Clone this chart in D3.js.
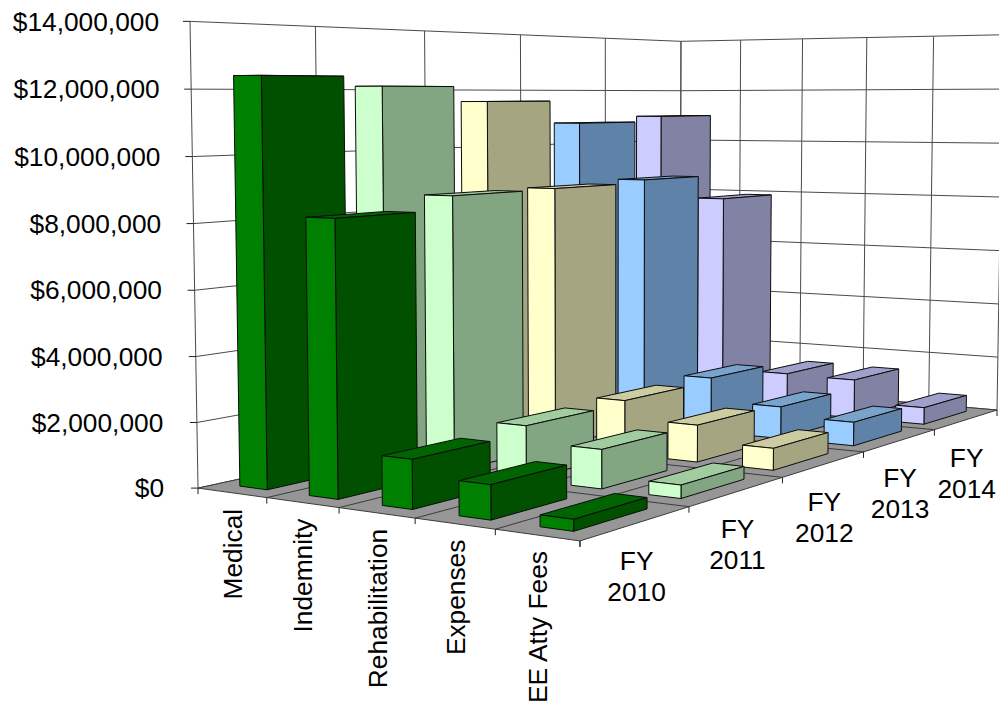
<!DOCTYPE html>
<html>
<head>
<meta charset="utf-8">
<script src="https://cdnjs.cloudflare.com/ajax/libs/d3/7.8.5/d3.min.js"></script>
<style>
  html, body { margin: 0; background: #fff; }
  svg { display: block; }
  text { font-family: "Liberation Sans", Arial, sans-serif; font-size: 26.3px; fill: #000; }
</style>
</head>
<body>
<svg id="chart" width="999" height="707"></svg>
<script>
const categories = ["Medical", "Indemnity", "Rehabilitation", "Expenses", "EE Atty Fees"];
const years = ["FY 2010", "FY 2011", "FY 2012", "FY 2013", "FY 2014"];
const valueTicks = [0, 2e6, 4e6, 6e6, 8e6, 10e6, 12e6, 14e6];

// Dollars per category, in the order of `categories`
const fy2010 = [12400000, 8250000, 1450000, 1000000, 330000];
const fy2011 = [12100000, 8680000, 1680000, 1200000, 400000];
const fy2012 = [11600000, 8700000, 1780000, 1200000, 700000];
const fy2013 = [10800000, 8800000, 1900000, 1100000, 800000];
const fy2014 = [11000000, 7900000, 1430000, 1400000, 600000];
const yearValues = [fy2010, fy2011, fy2012, fy2013, fy2014];

const frontFill = ["#008000", "#ccffcc", "#ffffcc", "#99ccff", "#ccccff"];
const sideFill  = ["#005000", "#82a582", "#a5a582", "#5f82a8", "#8282a5"];
const topFill   = ["#006400", "#a0cca0", "#cccca0", "#7aa3cc", "#a0a0cc"];

// Box corners on the page as (across, deep, up) -> (x, y), used to fit the camera
const cameraAnchors = [
  [0, 0, 0, 198, 487], [1, 0, 0, 580, 542], [1, 1, 0, 997, 409], [0, 1, 0, 680, 384],
  [0, 0, 1, 190, 21.5], [0, 1, 1, 681, 41], [1, 1, 1, 1003, 35]
];

// Least-squares fit of a projective camera through the anchors
function fitCamera(pts) {
  const rows = [], rhs = [];
  pts.forEach(([u, v, h, x, y]) => {
    rows.push([u, v, h, 1, 0, 0, 0, 0, -x * u, -x * v, -x * h]); rhs.push(x);
    rows.push([0, 0, 0, 0, u, v, h, 1, -y * u, -y * v, -y * h]); rhs.push(y);
  });
  const n = 11;
  const A = d3.range(n).map(i => {
    const r = d3.range(n).map(j => d3.sum(rows, row => row[i] * row[j]));
    r.push(d3.sum(rows, (row, k) => row[i] * rhs[k]));
    return r;
  });
  for (let c = 0; c < n; c++) {
    let p = c;
    for (let r = c + 1; r < n; r++) if (Math.abs(A[r][c]) > Math.abs(A[p][c])) p = r;
    [A[c], A[p]] = [A[p], A[c]];
    for (let r = 0; r < n; r++) {
      if (r === c) continue;
      const f = A[r][c] / A[c][c];
      for (let k = c; k <= n; k++) A[r][k] -= f * A[c][k];
    }
  }
  return A.map((r, i) => r[n] / r[i]);
}
const m = fitCamera(cameraAnchors);
function project(u, v, h) {
  const w = m[8] * u + m[9] * v + m[10] * h + 1;
  return [(m[0] * u + m[1] * v + m[2] * h + m[3]) / w,
          (m[4] * u + m[5] * v + m[6] * h + m[7]) / w];
}

const hScale = d3.scaleLinear().domain([0, 14e6]).range([0, 1]);
const uBand = d3.scaleBand().domain(categories).range([0, 1]).paddingInner(0.6).paddingOuter(0.3);
const vBand = d3.scaleBand().domain(years).range([0, 1]).paddingInner(1 / 3).paddingOuter(1 / 6);
const uEdges = d3.range(0, 6).map(i => i / 5);
const vEdges = d3.range(0, 6).map(i => i / 5);

const svg = d3.select("#chart");
const pathOf = d3.line();
const quad = pts => pathOf(pts) + "Z";
const GRID = "#4a4a4a";

// Walls
const walls = svg.append("g");
walls.append("path").attr("fill", "#fff").attr("d", quad([project(0,0,0), project(0,1,0), project(0,1,1), project(0,0,1)]));
walls.append("path").attr("fill", "#fff").attr("d", quad([project(0,1,0), project(1,1,0), project(1,1,1), project(0,1,1)]));
const seg = (g, a, b, col, w) => g.append("path").attr("d", pathOf([a, b])).attr("stroke", col).attr("stroke-width", w || 1).attr("fill", "none");
valueTicks.forEach(t => {
  const h = hScale(t);
  seg(walls, project(0,0,h), project(0,1,h), GRID);
  seg(walls, project(0,1,h), project(1,1,h), GRID);
});
vEdges.forEach(v => seg(walls, project(0,v,0), project(0,v,1), GRID));
uEdges.forEach(u => seg(walls, project(u,1,0), project(u,1,1), GRID));

// Floor
const floor = svg.append("g");
floor.append("path").attr("fill", "#969696").attr("d", quad([project(0,0,0), project(1,0,0), project(1,1,0), project(0,1,0)]));
uEdges.forEach(u => seg(floor, project(u,0,0), project(u,1,0), "#3c3c3c"));
vEdges.forEach(v => seg(floor, project(0,v,0), project(1,v,0), "#3c3c3c"));

// Axis ticks
const ticks = svg.append("g");
valueTicks.forEach(t => {
  const p = project(0, 0, hScale(t));
  seg(ticks, [p[0] - 7, p[1]], p, "#222");
});
uEdges.forEach(u => { const p = project(u,0,0); seg(ticks, p, [p[0], p[1] + 6], "#222"); });
vEdges.forEach(v => { const p = project(1,v,0); seg(ticks, p, [p[0], p[1] + 6], "#222"); });

// Bars: back row first, left to right within a row
const bars = svg.append("g").attr("stroke", "#0c0c0c").attr("stroke-width", 1).attr("stroke-linejoin", "round");
d3.range(years.length - 1, -1, -1).forEach(j => {
  const v0 = vBand(years[j]), v1 = v0 + vBand.bandwidth();
  categories.forEach((c, i) => {
    const u0 = uBand(c), u1 = u0 + uBand.bandwidth(), h = hScale(yearValues[j][i]);
    const g = bars.append("g").attr("class", "bar");
    g.append("path").attr("fill", topFill[j]).attr("d", quad([project(u0,v0,h), project(u1,v0,h), project(u1,v1,h), project(u0,v1,h)]));
    g.append("path").attr("fill", sideFill[j]).attr("d", quad([project(u1,v0,0), project(u1,v1,0), project(u1,v1,h), project(u1,v0,h)]));
    g.append("path").attr("fill", frontFill[j]).attr("d", quad([project(u0,v0,0), project(u1,v0,0), project(u1,v0,h), project(u0,v0,h)]));
  });
});

// Value labels sit left of the wall edge, which leans slightly inward toward the floor
const money = d3.format("$,.0f");
valueTicks.forEach(t => {
  const h = hScale(t), p = project(0, 0, h);
  svg.append("text").attr("x", p[0] - 31 - 3 * (1 - h)).attr("y", p[1]).attr("dy", "0.35em")
    .attr("text-anchor", "end").text(money(t));
});

// Category labels read upward, ending just under the front edge
categories.forEach((c, i) => {
  const p = project((i + 0.5) / 5, 0, 0);
  svg.append("text").attr("transform", `translate(${p[0] + 10},${p[1] + 16}) rotate(-90)`)
    .attr("text-anchor", "end").text(c);
});

// Year labels on two lines beside the right edge
years.forEach((y, j) => {
  const p = project(1, (j + 0.5) / 5, 0);
  const t = svg.append("text").attr("text-anchor", "middle");
  y.split(" ").forEach((part, k) => {
    t.append("tspan").attr("x", p[0]).attr("y", p[1] + 47 + k * 31).text(part);
  });
});
</script>
</body>
</html>
